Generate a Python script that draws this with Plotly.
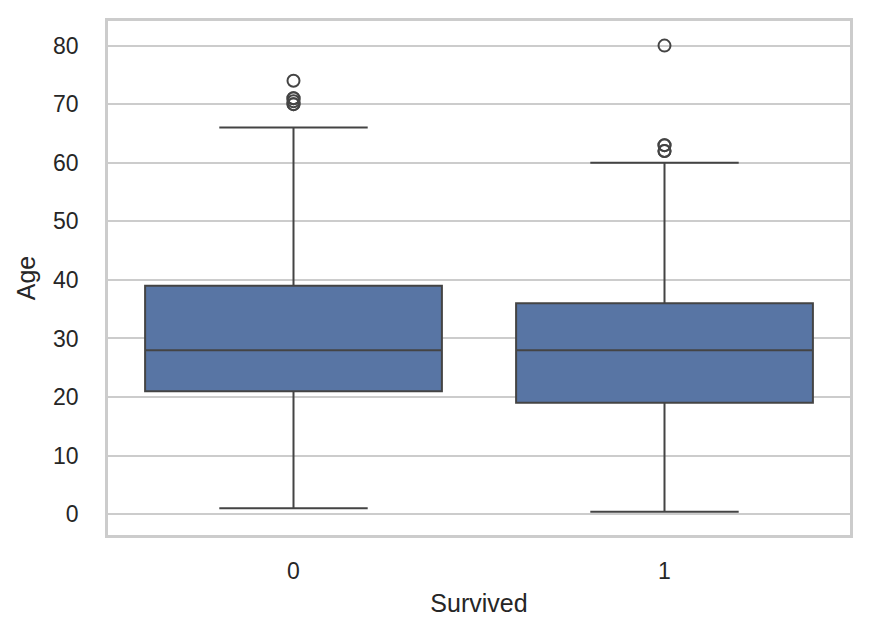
import plotly.graph_objects as go

categories = ["0", "1"]
q1 = [21.0, 19.0]
median = [28.0, 28.0]
q3 = [39.0, 36.0]
lower_whisker = [1.0, 0.42]
upper_whisker = [66.0, 60.0]
outliers_0 = [74.0, 71.0, 71.0, 70.5, 70.0, 70.0]
outliers_1 = [80.0, 63.0, 63.0, 62.0, 62.0]

FONT = "Liberation Sans, Arial, sans-serif"
LINE = "#444444"
FILL = "#5875a4"

fig = go.Figure()
fig.add_trace(go.Box(
    x=categories, q1=q1, median=median, q3=q3,
    lowerfence=lower_whisker, upperfence=upper_whisker,
    fillcolor=FILL, line=dict(color=LINE, width=2),
    width=0.8, whiskerwidth=0.5, boxpoints=False, showlegend=False,
    hoverinfo="skip",
))
for cat, outs in zip(categories, [outliers_0, outliers_1]):
    fig.add_trace(go.Scatter(
        x=[cat] * len(outs), y=outs, mode="markers",
        marker=dict(symbol="circle-open", size=12, color=LINE, line=dict(width=2)),
        showlegend=False,
    ))

fig.update_layout(
    width=869, height=638,
    margin=dict(l=100, r=27, t=10, b=111),
    plot_bgcolor="white", paper_bgcolor="white",
    font=dict(family=FONT, size=23, color="#262626"),
    xaxis=dict(
        title=dict(text="Survived", font=dict(size=25), standoff=12),
        type="category", range=[-0.5, 1.5],
        showgrid=False, showline=True, mirror=True, linecolor="#cccccc", linewidth=2.5,
        ticks="", zeroline=False, ticklabelstandoff=14,
    ),
    yaxis=dict(
        title=dict(text="Age", font=dict(size=25), standoff=11),
        range=[-3.56, 84.2], tickvals=[0, 10, 20, 30, 40, 50, 60, 70, 80],
        showgrid=True, gridcolor="#cccccc", gridwidth=2,
        showline=True, mirror=True, linecolor="#cccccc", linewidth=2.5,
        ticks="", zeroline=False, ticklabelstandoff=22,
    ),
)

fig.write_html("out.html")
